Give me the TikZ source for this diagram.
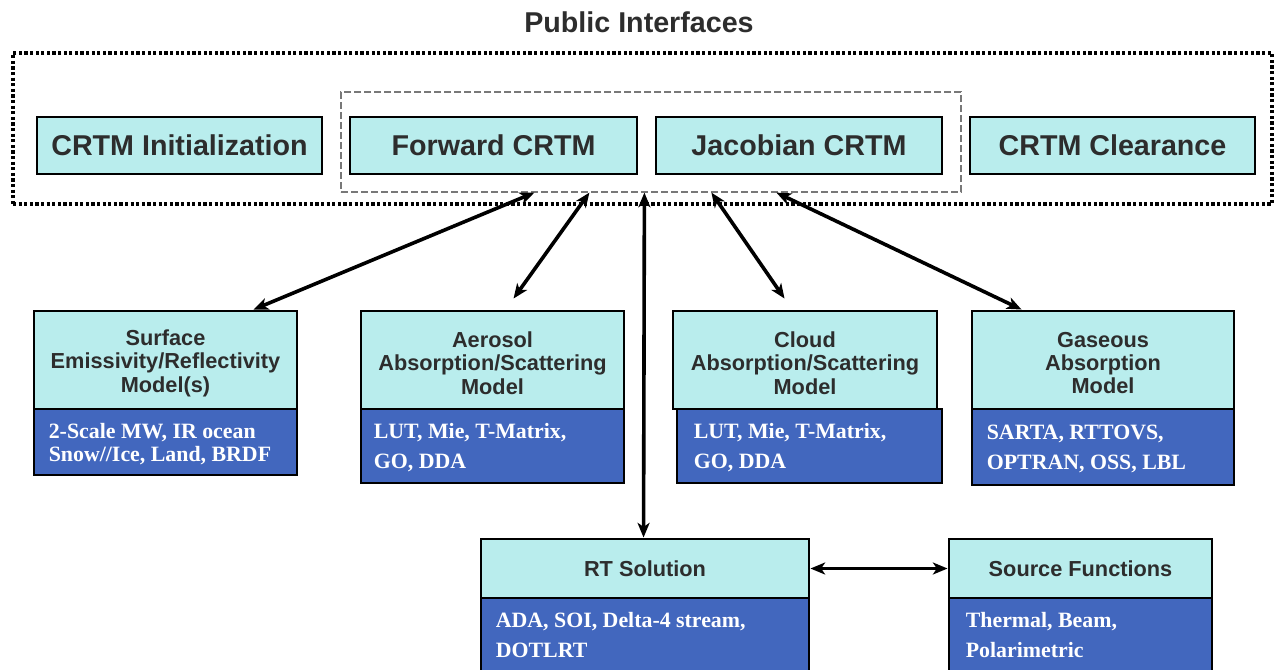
\documentclass[tikz,border=0pt]{standalone}
\usepackage{fontspec}
\setmainfont{Liberation Sans}
\newfontfamily\serifb{Liberation Serif}
\usetikzlibrary{arrows.meta,fit,calc}
\definecolor{boxcyan}{RGB}{185,237,237}
\definecolor{boxblue}{RGB}{66,103,190}
\definecolor{txtgray}{RGB}{45,45,45}
\definecolor{dashgray}{RGB}{120,120,120}
\begin{document}
\begin{tikzpicture}[x=0.75pt,y=-0.75pt,
  cbox/.style={draw=black,line width=2.2pt,fill=boxcyan,inner sep=0pt},
  ctext/.style={inner sep=0pt,text=txtgray,align=center,
    font=\bfseries\fontsize{16.3}{17.6}\selectfont},
  toptext/.style={ctext,font=\bfseries\fontsize{21.5}{24}\selectfont},
  bbox/.style={draw=black,line width=2.2pt,fill=boxblue,inner sep=0pt},
  btext/.style={anchor=west,align=left,text=white,inner sep=0pt,
    font=\serifb\bfseries\fontsize{16.4}{22.5}\selectfont},
  btextclose/.style={btext,font=\serifb\bfseries\fontsize{16.4}{17.3}\selectfont},
  link/.style={line width=2.7pt,{Stealth[length=11pt,width=9pt,inset=3pt]}-{Stealth[length=11pt,width=9pt,inset=3pt]}},
]
\useasboundingbox (0,0) rectangle (1278,669);

% title and public interface frames
\node[text=txtgray,font=\bfseries\fontsize{21.5}{24}\selectfont] (title) at (639,22) {Public Interfaces};
\node[fit={(13,53) (1272,204)},inner sep=0pt,draw=black,line width=2.6pt,dash pattern=on 2.4pt off 1.8pt] (pub) {};
\node[fit={(341,92) (961,192)},inner sep=0pt,draw=dashgray,line width=0.9pt,dash pattern=on 5pt off 2.5pt] (iface) {};

% top boxes
\node[cbox,fit={(37,117) (322,174)}] (init) {};
\node[cbox,fit={(350,117) (637,174)}] (fwd) {};
\node[cbox,fit={(656,117) (942,174)}] (jac) {};
\node[cbox,fit={(970,117) (1255,174)}] (clr) {};
\node[toptext] (initT) at (init.center) {CRTM Initialization};
\node[toptext] (fwdT) at (fwd.center) {Forward CRTM};
\node[toptext] (jacT) at (jac.center) {Jacobian CRTM};
\node[toptext] (clrT) at (clr.center) {CRTM Clearance};

% middle row: blue parts
\node[bbox,fit={(34,409) (297,475)}] (surfB) {};
\node[bbox,fit={(361,409) (624,483)}] (aeroB) {};
\node[bbox,fit={(677,409) (942,483)}] (cloudB) {};
\node[bbox,fit={(972,409) (1234,485)}] (gasB) {};
% middle row: cyan parts
\node[cbox,fit={(34,311) (297,409)}] (surf) {};
\node[cbox,fit={(361,311) (624,409)}] (aero) {};
\node[cbox,fit={(673,311) (937,409)}] (cloud) {};
\node[cbox,fit={(972,311) (1234,409)}] (gas) {};
\node[ctext] (surfH) at ($(surf.center)+(0,3)$) {Surface\\Emissivity/Reflectivity\\Model(s)};
\node[ctext] (aeroH) at ($(aero.center)+(0,3)$) {Aerosol\\Absorption/Scattering\\Model};
\node[ctext] (cloudH) at ($(cloud.center)+(0,3)$) {Cloud\\Absorption/Scattering\\Model};
\node[ctext] (gasH) at ($(gas.center)+(0,3)$) {Gaseous\\Absorption\\Model};
% middle row texts
\node[btextclose] (surfT) at ($(surfB.west)+(16,2)$) {2-Scale MW, IR ocean\\Snow//Ice, Land, BRDF};
\node[btext] (aeroT) at ($(aeroB.west)+(14,2)$) {LUT, Mie, T-Matrix,\\GO, DDA};
\node[btext] (cloudT) at ($(cloudB.west)+(18,2)$) {LUT, Mie, T-Matrix,\\GO, DDA};
\node[btext] (gasT) at ($(gasB.west)+(16,2)$) {SARTA, RTTOVS,\\OPTRAN, OSS, LBL};

% bottom row
\node[bbox,fit={(481,598) (809,690)}] (rtB) {};
\node[bbox,fit={(949,598) (1212,690)}] (srcB) {};
\node[cbox,fit={(481,539) (809,598)}] (rt) {};
\node[cbox,fit={(949,539) (1212,598)}] (src) {};
\node[ctext] (rtH) at (rt.center) {RT Solution};
\node[ctext] (srcH) at (src.center) {Source Functions};
\node[btext] (rtT) at ($(rtB.north west)+(16,38)$) {ADA, SOI, Delta-4 stream,\\DOTLRT};
\node[btext] (srcT) at ($(srcB.north west)+(18,38)$) {Thermal, Beam,\\Polarimetric};

% connectors
\draw[link] ($(iface.south west)+(194,0)$) -- ($(surf.north west)+(221,0)$);
\draw[link] ($(iface.south west)+(249,0)$) -- ($(aero.north west)+(154,-11)$);
\draw[link] ($(iface.south west)+(304,0)$) -- ($(rt.north west)+(164,0)$);
\draw[link] ($(iface.south west)+(371,0)$) -- ($(cloud.north west)+(113,-11)$);
\draw[link] ($(iface.south west)+(436,0)$) -- ($(gas.north west)+(51,0)$);
\draw[link] (rt.east) -- (src.west);
\end{tikzpicture}
\end{document}
